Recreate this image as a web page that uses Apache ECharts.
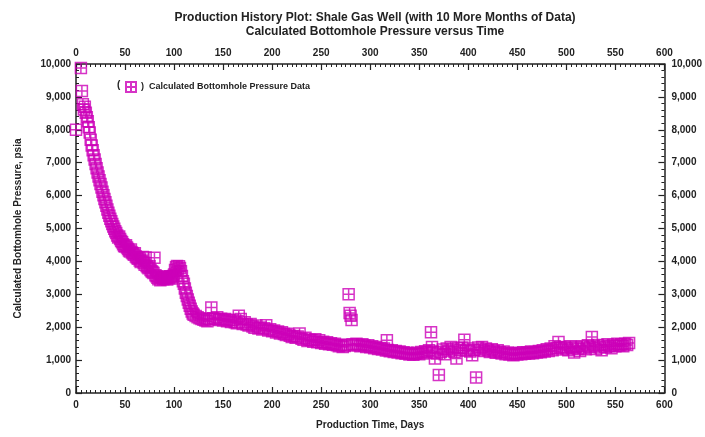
<!DOCTYPE html>
<html>
<head>
<meta charset="utf-8">
<script src="https://cdn.jsdelivr.net/npm/echarts@6/dist/echarts.min.js"></script>
<style>html,body{margin:0;padding:0;background:#fff}#c{width:705px;height:437px}</style>
</head>
<body>
<div id="c"></div>
<script>
var titleLines = ['Production History Plot: Shale Gas Well (with 10 More Months of Data)', 'Calculated Bottomhole Pressure versus Time'];
var seriesName = 'Calculated Bottomhole Pressure Data';
var xAxisName = 'Production Time, Days';
var yAxisName = 'Calculated Bottomhole Pressure, psia';
var xTicks = [0, 50, 100, 150, 200, 250, 300, 350, 400, 450, 500, 550, 600];
var yTicks = [0, 1000, 2000, 3000, 4000, 5000, 6000, 7000, 8000, 9000, 10000];

var days = [0,5,6,7,8,9,10,11,12,13,14,15,16,17,18,19,20,21,22,23,24,25,26,27,28,29,30,31,32,33,34,35,36,37,38,39,40,41,42,43,44,45,46,47,48,49,50,51,52,53,54,55,56,57,58,59,60,61,62,63,64,65,66,67,68,69,70,71,72,73,74,75,76,77,78,79,80,81,82,83,84,85,86,87,88,89,90,91,92,93,94,95,96,97,98,99,100,101,102,103,104,105,106,107,108,109,110,111,112,113,114,115,116,117,118,119,120,
122,124,126,128,130,132,134,136,138,140,142,144,146,148,150,152,154,156,158,160,162,164,166,168,170,172,174,176,178,180,182,184,186,188,190,192,194,196,198,200,202,204,206,208,210,212,214,216,218,220,222,224,226,228,230,232,234,236,238,240,242,244,246,248,250,252,254,256,258,260,262,264,266,268,270,272,274,276,278,279,280,281,282,284,286,288,290,292,294,296,298,300,302,304,306,308,310,312,314,316,317,318,320,322,324,326,328,330,332,334,336,338,340,342,344,346,348,350,352,354,356,358,360,362,363,364,366,368,370,372,374,376,378,380,382,384,386,388,390,392,394,396,398,400,402,404,406,408,410,412,414,416,418,420,422,424,426,428,430,432,434,436,438,440,442,444,446,448,450,452,454,456,458,460,462,464,466,468,470,472,474,476,478,480,482,484,486,488,490,492,494,496,498,500,502,504,506,508,510,512,514,516,518,520,522,524,526,528,530,532,534,536,538,540,542,544,546,548,550,552,554,556,558,560,562,564];

var pressure = [8000,9880,9180,8780,8620,8700,8520,8380,8260,8080,7920,7700,7520,7380,7230,7100,6960,6830,6700,6580,6470,6350,6250,6120,6010,5900,5800,5690,5580,5480,5390,5300,5220,5140,5060,4990,4920,4860,4790,4730,4760,4680,4620,4580,4520,4470,4450,4490,4420,4380,4330,4300,4360,4270,4240,4200,4250,4150,4120,4080,4100,4030,3980,4020,4130,3950,3900,4120,3860,3820,3790,3850,3740,3700,3680,3650,4110,3580,3550,3500,3460,3520,3430,3490,3510,3460,3540,3480,3500,3450,3530,3490,3550,3520,3480,3560,3600,3740,3820,3860,3780,3850,3800,3700,3560,3400,3320,3180,3050,2950,2840,2740,2650,2560,2480,2420,2380,
2340,2300,2270,2250,2230,2200,2180,2250,2600,2270,2240,2300,2220,2260,2200,2250,2180,2230,2160,2210,2150,2120,2350,2250,2100,2150,2080,2050,2100,2020,1980,2050,1960,1990,1930,1970,2060,1900,1940,1880,1900,1840,1870,1810,1850,1790,1760,1800,1740,1700,1730,1680,1720,1810,1650,1620,1680,1580,1620,1600,1560,1630,1540,1600,1520,1560,1500,1540,1480,1510,1470,1500,1450,1420,1460,1400,1430,1470,3000,2430,2350,2220,1480,1440,1500,1460,1420,1480,1440,1400,1450,1390,1420,1360,1400,1340,1370,1320,1350,1290,1600,1310,1270,1300,1250,1280,1230,1260,1210,1240,1190,1220,1170,1200,1160,1190,1220,1180,1250,1200,1270,1230,1300,1850,1400,1260,1050,1200,550,1250,1320,1180,1350,1280,1400,1320,1250,1050,1360,1300,1380,1620,1290,1350,1260,1150,1300,470,1380,1320,1400,1280,1350,1300,1250,1330,1270,1220,1300,1240,1200,1260,1180,1230,1170,1210,1150,1200,1170,1220,1180,1240,1190,1230,1200,1260,1210,1250,1230,1280,1240,1300,1260,1330,1280,1350,1300,1420,1360,1550,1380,1320,1400,1350,1300,1420,1360,1230,1400,1340,1280,1420,1370,1330,1450,1400,1700,1420,1340,1460,1380,1300,1440,1400,1480,1420,1360,1460,1420,1500,1440,1480,1420,1500,1460,1520];

var points = days.map(function (d, i) { return [d, pressure[i]]; });

var FONT = '"Liberation Sans", Arial, sans-serif';
var TXT = '#222';
var MAG = '#cc00b8';
var marker = 'path://M0,0L10,0L10,10L0,10Z M5,0L5,10 M0,5L10,5';

function fmtNum(v) { return String(v).replace(/\B(?=(\d{3})+(?!\d))/g, ','); }

function xAx(pos, showName) {
  return {
    type: 'value', position: pos, min: xTicks[0], max: xTicks[xTicks.length - 1], interval: 50,
    name: showName ? xAxisName : '', nameLocation: 'middle', nameGap: 27,
    nameTextStyle: { fontFamily: FONT, fontWeight: 'bold', fontSize: 10, color: TXT },
    axisLine: { show: true, onZero: false, lineStyle: { color: '#222', width: 1.5 } },
    axisTick: { show: true, inside: true, length: 6, lineStyle: { color: '#222', width: 1.2 } },
    minorTick: { show: true, splitNumber: 10, length: 3, lineStyle: { color: '#222', width: 1 } },
    axisLabel: { show: true, margin: pos === 'top' ? 6 : 7, fontFamily: FONT, fontWeight: 'bold', fontSize: 10, color: TXT },
    splitLine: { show: false }
  };
}
function yAx(pos, showName) {
  return {
    type: 'value', position: pos, min: yTicks[0], max: yTicks[yTicks.length - 1], interval: 1000,
    name: showName ? yAxisName : '', nameLocation: 'middle', nameGap: 53,
    nameTextStyle: { fontFamily: FONT, fontWeight: 'bold', fontSize: 10, color: TXT },
    axisLine: { show: true, onZero: false, lineStyle: { color: '#222', width: 1.5 } },
    axisTick: { show: true, inside: true, length: 6, lineStyle: { color: '#222', width: 1.2 } },
    minorTick: { show: true, splitNumber: 5, length: 3, lineStyle: { color: '#222', width: 1 } },
    axisLabel: { show: true, margin: pos === 'left' ? 5 : 7, fontFamily: FONT, fontWeight: 'bold', fontSize: 10, color: TXT, formatter: fmtNum },
    splitLine: { show: false }
  };
}

var chart = echarts.init(document.getElementById('c'), null, { renderer: 'canvas' });
chart.setOption({
  backgroundColor: '#fff',
  animation: false,
  title: {
    text: titleLines.join('\n'), left: 370, top: 6, textAlign: 'center',
    textStyle: { fontFamily: FONT, fontWeight: 'bold', fontSize: 12, color: TXT, lineHeight: 14 }
  },
  grid: { left: 76, right: 40, top: 64, bottom: 44, containLabel: false },
  xAxis: [xAx('bottom', true), xAx('top', false)],
  yAxis: [yAx('left', true), yAx('right', false)],
  legend: {
    left: 125, top: 81, padding: 0, itemWidth: 10, itemHeight: 10, itemGap: 4,
    data: [seriesName],
    formatter: function (n) { return ')  ' + n; },
    textStyle: { fontFamily: FONT, fontWeight: 'bold', fontSize: 9, color: TXT }
  },
  graphic: [{
    type: 'text', left: 117, top: 80,
    style: { text: '(', fontFamily: FONT, fontWeight: 'bold', fontSize: 10, fill: TXT }
  }],
  series: [{
    name: seriesName, type: 'scatter', xAxisIndex: 0, yAxisIndex: 0,
    symbol: marker, symbolSize: 11,
    itemStyle: { color: 'rgba(0,0,0,0)', borderColor: MAG, borderWidth: 1.5 },
    data: points
  }]
});
</script>
</body>
</html>
